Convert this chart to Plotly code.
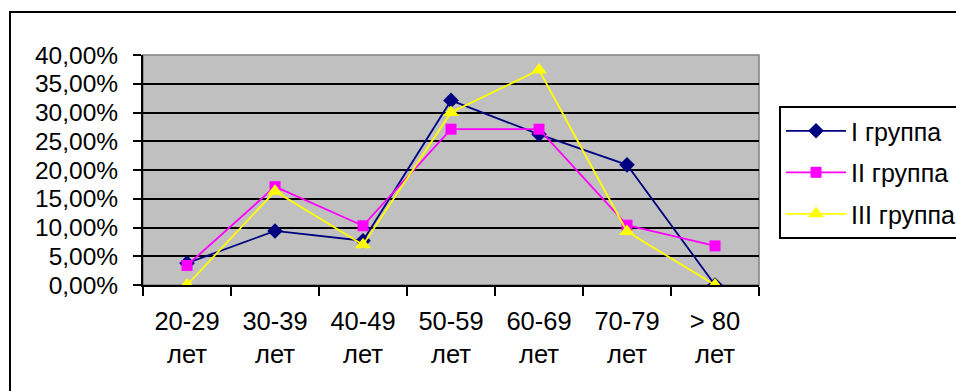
import plotly.graph_objects as go

# Age groups (two-line category labels)
age_groups = ["20-29<br>лет", "30-39<br>лет", "40-49<br>лет", "50-59<br>лет",
              "60-69<br>лет", "70-79<br>лет", "> 80<br>лет"]

# Share of patients per age group, %
group_1 = [3.8, 9.4, 7.7, 32.1, 26.2, 20.9, 0.0]
group_2 = [3.4, 17.1, 10.3, 27.1, 27.1, 10.4, 6.8]
group_3 = [0.0, 16.3, 7.0, 30.0, 37.4, 9.3, 0.0]

series_names = ["I группа", "II группа", "III группа"]
series_colors = ["#000080", "#FF00FF", "#FFFF00"]
series_symbols = ["diamond", "square", "triangle-up"]
series_sizes = [12, 11, 14]

# Y axis ticks (percent, comma decimal separator)
y_ticks = [0, 5, 10, 15, 20, 25, 30, 35, 40]
y_tick_text = ["0,00%", "5,00%", "10,00%", "15,00%", "20,00%",
               "25,00%", "30,00%", "35,00%", "40,00%"]

FONT = "Arial, 'Liberation Sans', sans-serif"

fig = go.Figure()
for name, vals, col, sym, sz in zip(series_names, [group_1, group_2, group_3],
                                    series_colors, series_symbols, series_sizes):
    fig.add_trace(go.Scatter(
        x=age_groups, y=vals, name=name, mode="lines+markers",
        legendgroup=name,
        line=dict(color=col, width=1.8),
        marker=dict(symbol=sym, size=sz, color=col, line=dict(width=0)),
    ))

fig.update_layout(
    width=956, height=391,
    margin=dict(l=143, r=197, t=55, b=106, autoexpand=False),
    paper_bgcolor="white",
    plot_bgcolor="#C0C0C0",
    font=dict(family=FONT, size=24, color="black"),
    showlegend=True,
    legend=dict(
        x=1.0325, y=0.778, xanchor="left", yanchor="top",
        bordercolor="black", borderwidth=2, bgcolor="white",
        font=dict(family=FONT, size=25, color="black"),
        itemwidth=60,
        tracegroupgap=6,
    ),
    shapes=[
        # outer chart frame
        dict(type="rect", xref="paper", yref="paper",
             x0=-0.2159, x1=1.33, y0=-0.48, y1=1.187,
             line=dict(color="black", width=2), fillcolor="rgba(0,0,0,0)",
             layer="above"),
        # plot area border (top/right)
        dict(type="rect", xref="paper", yref="paper",
             x0=0, x1=1, y0=0, y1=1,
             line=dict(color="#808080", width=1.5), fillcolor="rgba(0,0,0,0)",
             layer="below"),
    ],
)

fig.update_xaxes(
    type="category", range=[-0.5, 6.5],
    showgrid=False, showline=True, linecolor="black", linewidth=2,
    ticks="outside", ticklen=9, tickwidth=2, tickcolor="black",
    tickson="boundaries", ticklabelstandoff=12,
    tickfont=dict(family=FONT, size=25.5, color="black"),
)
fig.update_yaxes(
    range=[0, 40], tickvals=y_ticks, ticktext=y_tick_text,
    showgrid=True, gridcolor="black", gridwidth=1.6,
    showline=True, linecolor="black", linewidth=2,
    ticks="outside", ticklen=8, tickwidth=2, tickcolor="black",
    ticklabelstandoff=10,
    tickfont=dict(family=FONT, size=24.5, color="black"),
    zeroline=False,
)

fig.write_html("out.html")
